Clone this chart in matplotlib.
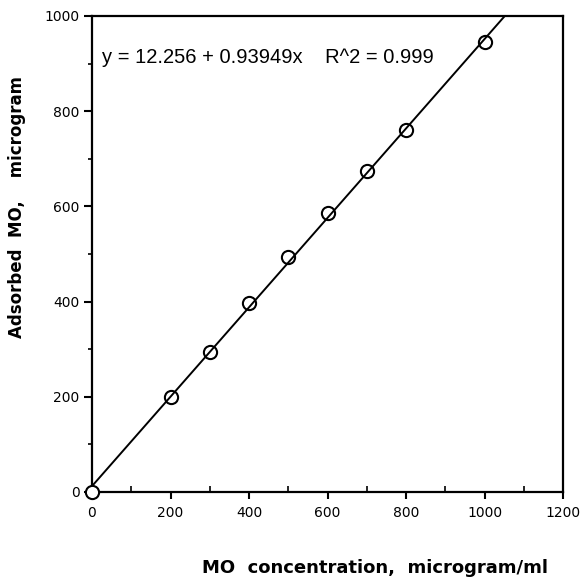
import numpy as np
import matplotlib.pyplot as plt
from matplotlib.ticker import MultipleLocator

plt.rcParams['font.family'] = ['DejaVu Sans']

# data
conc = [0, 200, 300, 400, 500, 600, 700, 800, 1000]
adsorbed = [0, 200, 294, 397, 494, 586, 675, 760, 946]

# fitted line given on the chart
intercept = 12.256
slope = 0.93949
fit_x = np.array([0, 1200])

fig = plt.figure(figsize=(5.81, 5.83), dpi=100)
ax = fig.add_axes([0.1583, 0.1561, 0.811, 0.8165])

ax.plot(fit_x, intercept + slope * fit_x, color='black', linewidth=1.4, zorder=2)
# origin point sits on the axes corner and hides it
ax.plot(conc[:1], adsorbed[:1], linestyle='none', marker='o', markersize=9.5,
        markerfacecolor='white', markeredgecolor='black', markeredgewidth=1.5,
        clip_on=False, zorder=4)
ax.plot(conc[1:], adsorbed[1:], linestyle='none', marker='o', markersize=9.5,
        markerfacecolor='none', markeredgecolor='black', markeredgewidth=1.5,
        clip_on=False, zorder=3)

ax.set_xlim(0, 1200)
ax.set_ylim(0, 1000)
ax.xaxis.set_major_locator(MultipleLocator(200))
ax.xaxis.set_minor_locator(MultipleLocator(100))
ax.yaxis.set_major_locator(MultipleLocator(200))
ax.yaxis.set_minor_locator(MultipleLocator(100))

ax.tick_params(axis='x', which='major', direction='out', length=5, width=1.5, labelsize=10, pad=5)
ax.tick_params(axis='x', which='minor', direction='in', length=4, width=1.2)
ax.tick_params(axis='y', which='major', direction='out', length=6, width=1.5, labelsize=10, pad=3)
ax.tick_params(axis='y', which='minor', direction='out', length=3, width=1.2)

for s in ax.spines.values():
    s.set_linewidth(1.6)

ax.text(25, 912, 'y = 12.256 + 0.93949x    R^2 = 0.999', fontsize=14.5,
        family='Liberation Sans', va='center', ha='left')

fig.text(0.645, 0.026, 'MO  concentration,  microgram/ml', fontsize=13, fontweight='bold',
         ha='center', va='center')
fig.text(0.03, 0.645, 'Adsorbed  MO,    microgram', fontsize=12, fontweight='bold',
         ha='center', va='center', rotation=90)

fig.savefig('out.png', dpi=100)
